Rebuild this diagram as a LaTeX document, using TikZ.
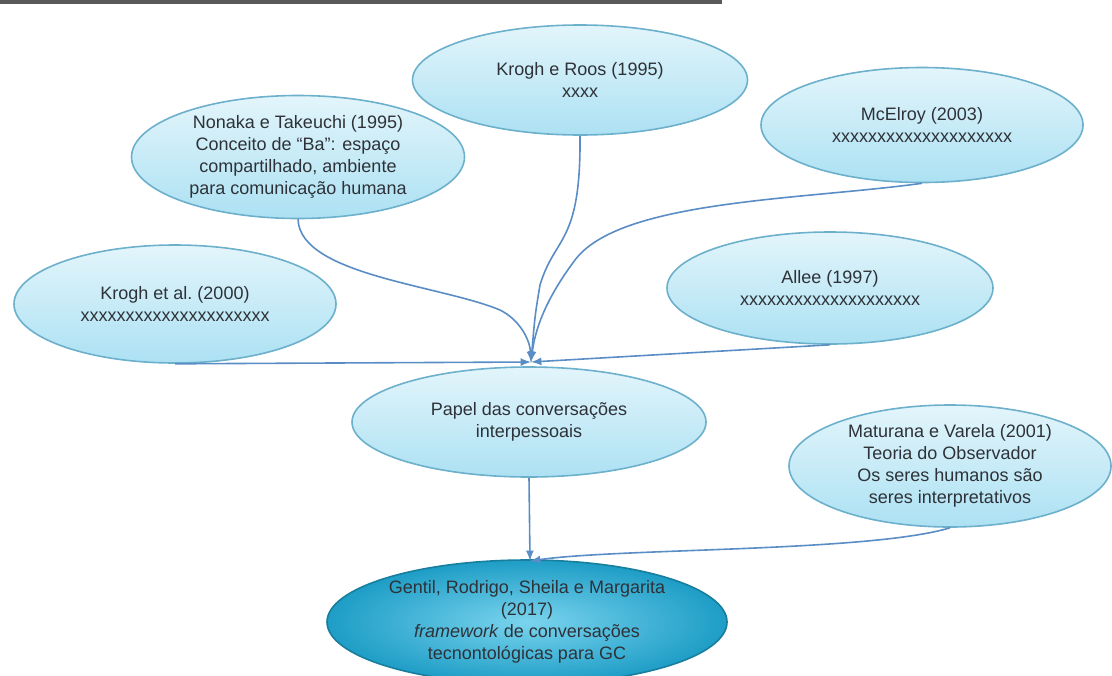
\documentclass[tikz,border=0pt]{standalone}
\usepackage{fontspec}
\setmainfont{Liberation Sans}
\usetikzlibrary{shapes.geometric}
\definecolor{linha}{HTML}{5A8DC6}
\definecolor{borda}{HTML}{6CB0CC}
\definecolor{claro}{HTML}{E3F5FB}
\definecolor{medio}{HTML}{ACE1F3}
\definecolor{escuro}{HTML}{1E9DC6}
\definecolor{meio}{HTML}{7AD4EE}
\definecolor{texto}{HTML}{2E3238}
\begin{document}
\begin{tikzpicture}[x=0.5pt,y=-0.5pt,
  caixa/.style={ellipse, line width=0.8pt, align=center, text=texto, inner sep=0pt,
    font=\fontsize{9}{11}\selectfont},
  balao/.style={caixa, draw=borda, top color=claro, bottom color=medio},
  destaque/.style={caixa, draw=escuro!80!black, inner color=meio, outer color=escuro},
  seta/.style={-latex, draw=linha, line width=0.8pt}]
\useasboundingbox (0,0) rectangle (1112,675);
\fill [black!65] (0,0) rectangle (722,3.5);

\node [balao, minimum width=167.5pt, minimum height=55pt] (roos) at (580,80) {Krogh e Roos (1995)\\xxxx};
\node [balao, minimum width=166.5pt, minimum height=61.5pt] (nonaka) at (298,157) {Nonaka e Takeuchi (1995)\\Conceito de “Ba”: espaço\\compartilhado, ambiente\\para comunicação humana};
\node [balao, minimum width=161pt, minimum height=57.5pt] (mcelroy) at (922,125) {McElroy (2003)\\xxxxxxxxxxxxxxxxxxxx};
\node [balao, minimum width=163pt, minimum height=56pt] (allee) at (830,288) {Allee (1997)\\xxxxxxxxxxxxxxxxxxxx};
\node [balao, minimum width=161pt, minimum height=59pt] (kea) at (175,304) {Krogh et al.\ (2000)\\xxxxxxxxxxxxxxxxxxxxx};
\node [balao, minimum width=177pt, minimum height=55pt] (papel) at (529,422) {Papel das conversações\\interpessoais};
\node [balao, minimum width=161pt, minimum height=61pt] (maturana) at (950,466) {Maturana e Varela (2001)\\Teoria do Observador\\Os seres humanos são\\seres interpretativos};
\node [destaque, minimum width=200pt, minimum height=62pt] (gentil) at (527,622) {Gentil, Rodrigo, Sheila e Margarita\\(2017)\\\emph{framework} de conversações\\tecnontológicas para GC};

\coordinate (entrada) at (531,362);
\coordinate (chegada) at (530,561);

\draw [seta] (kea.south) -- (entrada);
\draw [seta] (allee.south) -- (entrada);
\draw [seta] (nonaka.south) .. controls (300,275) and (440,285) .. (500,310) .. controls (520,320) and (530,340) .. (entrada);
\draw [seta] (roos.south) .. controls (581,245) and (555,235) .. (540,285) .. controls (535,315) .. (entrada);
\draw [seta] (mcelroy.south) .. controls (800,200) and (620,200) .. (575,260) .. controls (545,300) and (535,330) .. (entrada);
\draw [seta] (papel.south) -- (chegada);
\draw [seta] (maturana.south) .. controls (870,552) and (620,548) .. (chegada);
\end{tikzpicture}
\end{document}
